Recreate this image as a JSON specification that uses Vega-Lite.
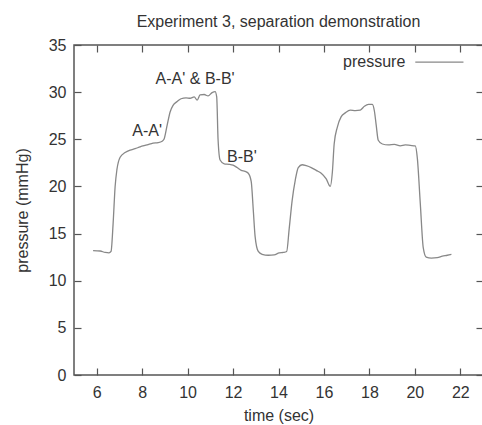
{
  "$schema": "https://vega.github.io/schema/vega-lite/v6.json",
  "width": 409,
  "height": 330,
  "autosize": "none",
  "padding": {"left": 74, "top": 45, "right": 0, "bottom": 50},
  "background": "white",
  "config": {
    "font": "Liberation Sans",
    "view": {"stroke": "#555", "strokeWidth": 1.5},
    "axis": {
      "domain": false,
      "grid": false,
      "tickColor": "#555",
      "tickWidth": 1.2,
      "tickSize": -7,
      "labelFont": "Liberation Sans",
      "labelFontSize": 16,
      "labelColor": "#333",
      "titleFont": "Liberation Sans",
      "titleFontSize": 16,
      "titleFontWeight": "normal",
      "titleColor": "#333"
    }
  },
  "title": {
    "text": "Experiment 3, separation demonstration",
    "font": "Liberation Sans",
    "fontSize": 16,
    "fontWeight": "normal",
    "color": "#333",
    "anchor": "middle",
    "offset": 7
  },
  "datasets": {
    "pressure": [
      {"t": 5.84, "p": 13.2}, {"t": 6.15, "p": 13.15}, {"t": 6.37, "p": 13.0}, {"t": 6.54, "p": 12.95},
      {"t": 6.63, "p": 13.1}, {"t": 6.72, "p": 16.0}, {"t": 6.81, "p": 20.0}, {"t": 6.89, "p": 21.8},
      {"t": 7.03, "p": 23.1}, {"t": 7.25, "p": 23.6}, {"t": 7.47, "p": 23.86}, {"t": 7.69, "p": 24.0},
      {"t": 7.91, "p": 24.2}, {"t": 8.22, "p": 24.4}, {"t": 8.48, "p": 24.6}, {"t": 8.7, "p": 24.65},
      {"t": 8.88, "p": 24.8}, {"t": 8.96, "p": 25.0}, {"t": 9.1, "p": 26.5}, {"t": 9.23, "p": 27.9},
      {"t": 9.36, "p": 28.6}, {"t": 9.54, "p": 29.0}, {"t": 9.71, "p": 29.3}, {"t": 9.93, "p": 29.4},
      {"t": 10.11, "p": 29.35}, {"t": 10.29, "p": 29.5}, {"t": 10.42, "p": 29.15}, {"t": 10.55, "p": 29.7},
      {"t": 10.73, "p": 29.75}, {"t": 10.9, "p": 29.6}, {"t": 11.08, "p": 29.95}, {"t": 11.21, "p": 30.05},
      {"t": 11.28, "p": 29.5}, {"t": 11.34, "p": 25.0}, {"t": 11.43, "p": 22.8}, {"t": 11.61, "p": 22.4},
      {"t": 11.83, "p": 22.35}, {"t": 12.0, "p": 22.25}, {"t": 12.18, "p": 22.0}, {"t": 12.36, "p": 21.7},
      {"t": 12.53, "p": 21.6}, {"t": 12.67, "p": 21.4}, {"t": 12.8, "p": 20.5}, {"t": 12.89, "p": 17.5},
      {"t": 12.97, "p": 14.7}, {"t": 13.11, "p": 13.1}, {"t": 13.28, "p": 12.8}, {"t": 13.55, "p": 12.7},
      {"t": 13.81, "p": 12.75}, {"t": 14.03, "p": 12.95}, {"t": 14.21, "p": 13.0}, {"t": 14.36, "p": 13.1},
      {"t": 14.47, "p": 15.5}, {"t": 14.6, "p": 18.5}, {"t": 14.74, "p": 20.7}, {"t": 14.87, "p": 22.0},
      {"t": 15.04, "p": 22.3}, {"t": 15.22, "p": 22.2}, {"t": 15.44, "p": 22.0}, {"t": 15.66, "p": 21.7},
      {"t": 15.88, "p": 21.4}, {"t": 16.1, "p": 20.8}, {"t": 16.28, "p": 20.0}, {"t": 16.37, "p": 21.5},
      {"t": 16.45, "p": 24.5}, {"t": 16.59, "p": 26.3}, {"t": 16.76, "p": 27.4}, {"t": 16.94, "p": 27.8},
      {"t": 17.16, "p": 28.1}, {"t": 17.38, "p": 28.05}, {"t": 17.6, "p": 28.1}, {"t": 17.78, "p": 28.5},
      {"t": 17.96, "p": 28.7}, {"t": 18.13, "p": 28.7}, {"t": 18.22, "p": 28.0}, {"t": 18.3, "p": 26.5},
      {"t": 18.39, "p": 24.9}, {"t": 18.57, "p": 24.5}, {"t": 18.83, "p": 24.4}, {"t": 19.1, "p": 24.45},
      {"t": 19.36, "p": 24.3}, {"t": 19.58, "p": 24.4}, {"t": 19.8, "p": 24.35}, {"t": 20.02, "p": 24.3},
      {"t": 20.11, "p": 23.0}, {"t": 20.24, "p": 18.2}, {"t": 20.37, "p": 13.5}, {"t": 20.5, "p": 12.5},
      {"t": 20.73, "p": 12.4}, {"t": 20.99, "p": 12.45}, {"t": 21.21, "p": 12.6}, {"t": 21.43, "p": 12.7},
      {"t": 21.61, "p": 12.8}
    ],
    "notes": [
      {"t": 8.22, "p": 25.87, "label": "A-A'"},
      {"t": 10.33, "p": 31.39, "label": "A-A' & B-B'"},
      {"t": 12.39, "p": 23.15, "label": "B-B'"}
    ],
    "key": [
      {"t": 19.58, "t2": 22.14, "tl": 20.02, "p": 33.19, "label": "pressure"}
    ]
  },
  "resolve": {"axis": {"x": "independent", "y": "independent"}},
  "layer": [
    {
      "data": {"name": "pressure"},
      "mark": {"type": "line", "color": "#888", "strokeWidth": 1.3, "interpolate": "monotone"},
      "encoding": {
        "x": {"field": "t", "type": "quantitative", "scale": {"domain": [5, 23], "nice": false, "zero": false},
              "axis": {"orient": "bottom", "title": "time (sec)", "values": [6, 8, 10, 12, 14, 16, 18, 20, 22], "labelPadding": 16, "titlePadding": 7}},
        "y": {"field": "p", "type": "quantitative", "scale": {"domain": [0, 35], "nice": false, "zero": false},
              "axis": {"orient": "left", "title": "pressure (mmHg)", "values": [0, 5, 10, 15, 20, 25, 30, 35], "labelPadding": 15, "titlePadding": 18}}
      }
    },
    {
      "data": {"name": "pressure"},
      "mark": {"type": "line", "opacity": 0},
      "encoding": {
        "x": {"field": "t", "type": "quantitative", "axis": {"orient": "top", "title": null, "labels": false, "values": [6, 8, 10, 12, 14, 16, 18, 20, 22]}},
        "y": {"field": "p", "type": "quantitative", "axis": {"orient": "right", "title": null, "labels": false, "values": [0, 5, 10, 15, 20, 25, 30, 35]}}
      }
    },
    {
      "data": {"name": "notes"},
      "mark": {"type": "text", "fontSize": 16, "color": "#333", "align": "center", "baseline": "middle"},
      "encoding": {
        "x": {"field": "t", "type": "quantitative", "axis": null},
        "y": {"field": "p", "type": "quantitative", "axis": null},
        "text": {"field": "label"}
      }
    },
    {
      "data": {"name": "key"},
      "mark": {"type": "text", "fontSize": 16, "color": "#333", "align": "right", "baseline": "middle"},
      "encoding": {
        "x": {"field": "t", "type": "quantitative", "axis": null},
        "y": {"field": "p", "type": "quantitative", "axis": null},
        "text": {"field": "label"}
      }
    },
    {
      "data": {"name": "key"},
      "mark": {"type": "rule", "color": "#888", "strokeWidth": 1.3},
      "encoding": {
        "x": {"field": "tl", "type": "quantitative", "axis": null},
        "x2": {"field": "t2"},
        "y": {"field": "p", "type": "quantitative", "axis": null}
      }
    }
  ]
}
